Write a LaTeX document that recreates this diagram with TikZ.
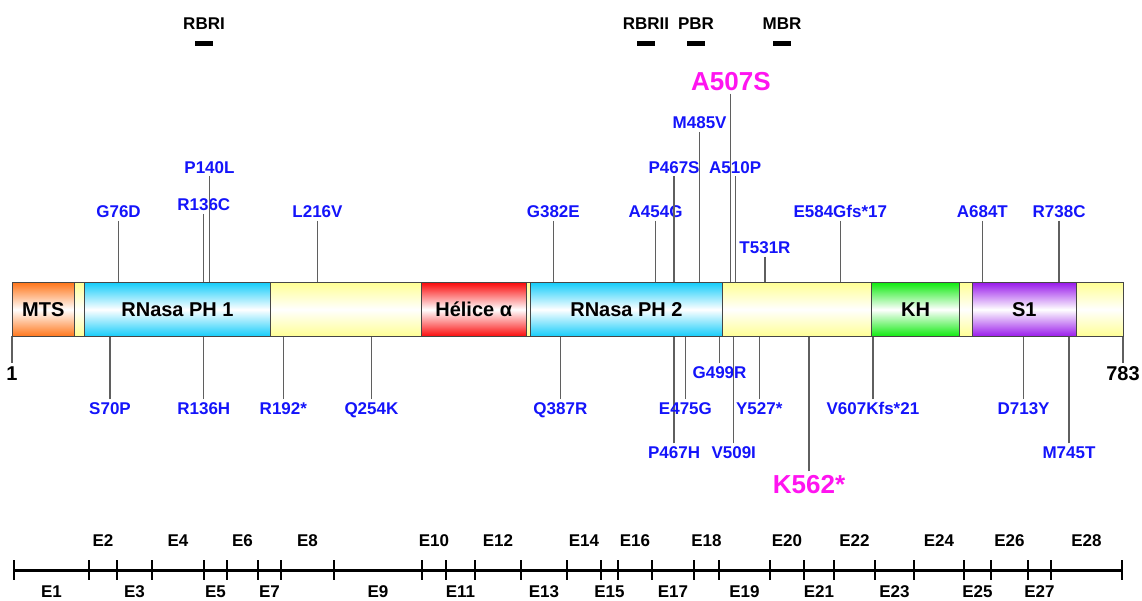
\documentclass[tikz,border=0pt]{standalone}
\usepackage{fontspec}
\setmainfont{Liberation Sans}
\usetikzlibrary{calc}
\definecolor{mutblue}{RGB}{20,20,250}
\definecolor{hotpink}{RGB}{255,20,240}
\definecolor{mtsorange}{RGB}{255,120,30}
\definecolor{rnacyan}{RGB}{25,205,250}
\definecolor{linkyellow}{RGB}{255,255,150}
\definecolor{helixred}{RGB}{250,15,15}
\definecolor{khgreen}{RGB}{20,235,20}
\definecolor{sonepurple}{RGB}{155,30,235}
\definecolor{pingray}{RGB}{95,95,95}
\definecolor{edgegray}{RGB}{70,70,70}

\begin{document}
\begin{tikzpicture}[x=1pt, y=-1pt, font=\bfseries,
  declare function={rx(\r)=12+(\r-1)*1.420716;},
  dom/.style={draw=edgegray, line width=1pt, top color=#1, bottom color=#1, middle color=white},
  dlabel/.style={inner sep=0pt, font=\fontsize{20}{24}\selectfont\bfseries},
  mut/.style={text=mutblue, inner sep=3pt, text height=12.2pt, text depth=0pt,
    font=\fontsize{17}{20}\selectfont\bfseries},
  hot/.style={mut, text=hotpink, text height=18.7pt, font=\fontsize{26}{30}\selectfont\bfseries},
  endlabel/.style={mut, text=black, text height=14.4pt, font=\fontsize{20}{24}\selectfont\bfseries},
  pin/.style={draw=pingray, line width=1.2pt},
  region/.style={inner sep=0pt, font=\fontsize{17}{20}\selectfont\bfseries},
  regbar/.style={fill=black, inner sep=0pt, minimum width=18pt, minimum height=5pt},
  exon/.style={inner sep=0pt, font=\fontsize{17}{20}\selectfont\bfseries},
  ruler/.style={line width=3pt},
  tick/.style={line width=2.5pt}]
  \useasboundingbox (0,0) rectangle (1142,601);

  \coordinate (top) at (0,283);
  \coordinate (bot) at (0,336);

  \foreach \nm/\x in {RBRI/204, RBRII/646, PBR/696, MBR/782}{
    \node[region] (\nm) at (\x,24) {\nm};
    \node[regbar] (\nm-bar) at (\x,44) {};
  }

  \foreach \r/\lbl/\y in {76/G76D/211.5, 136/R136C/204.5, 140/P140L/167, 216/L216V/211.5,
      382/G382E/211.5, 454/A454G/211.5, 467/P467S/167, 485/M485V/122.5, 510/A510P/167,
      531/T531R/247.3, 584/E584Gfs*17/211.5, 684/A684T/211.5, 738/R738C/211.5}{
    \node[mut] (u\r) at ({rx(\r)},\y) {\lbl};
    \draw[pin] (u\r.south) -- (u\r.south |- top);
  }
  \node[hot] (u507) at ({rx(507)},81) {A507S};
  \draw[pin] (u507.south) -- (u507.south |- top);

  \foreach \r/\lbl/\y in {70/S70P/408.5, 136/R136H/408.5, 192/R192*/408.5, 254/Q254K/408.5,
      387/Q387R/408.5, 467/P467H/452.7, 475/E475G/408.5, 499/G499R/372.7, 509/V509I/452.7,
      527/Y527*/408.5, 607/V607Kfs*21/408.5, 713/D713Y/408.5, 745/M745T/452.7}{
    \node[mut] (d\r) at ({rx(\r)},\y) {\lbl};
    \draw[pin] (d\r.north) -- (d\r.north |- bot);
  }
  \node[hot] (d562) at ({rx(562)},484) {K562*};
  \draw[pin] (d562.north) -- (d562.north |- bot);

  \node[endlabel] (first) at ({rx(1)},373) {1};
  \node[endlabel] (last) at ({rx(783)},373) {783};
  \draw[pin] (first.north) -- (first.north |- bot);
  \draw[pin] (last.north) -- (last.north |- bot);

  \draw[dom=linkyellow] ({rx(1)},283) rectangle ({rx(783)},336);
  \draw[dom=mtsorange] ({rx(1)},283) rectangle ({rx(45)},336);
  \draw[dom=rnacyan] ({rx(52)},283) rectangle ({rx(183)},336);
  \draw[dom=helixred] ({rx(289)},283) rectangle ({rx(363)},336);
  \draw[dom=rnacyan] ({rx(366)},283) rectangle ({rx(501)},336);
  \draw[dom=khgreen] ({rx(606)},283) rectangle ({rx(668)},336);
  \draw[dom=sonepurple] ({rx(677)},283) rectangle ({rx(750)},336);
  \node[dlabel] (mts) at ({(rx(1)+rx(45))/2},309.5) {MTS};
  \node[dlabel] (ph1) at ({(rx(52)+rx(183))/2},309.5) {RNasa PH 1};
  \node[dlabel] (helix) at ({(rx(289)+rx(363))/2},309.5) {Hélice α};
  \node[dlabel] (ph2) at ({(rx(366)+rx(501))/2},309.5) {RNasa PH 2};
  \node[dlabel] (kh) at ({(rx(606)+rx(668))/2},309.5) {KH};
  \node[dlabel] (s1) at ({(rx(677)+rx(750))/2},309.5) {S1};

  \foreach \x [count=\i from 0] in {14,89,117,152,204,227,258,281,334,422,446,475,521,567,
      601,618,652,694,719,770,804,834,875,914,964,991,1028,1051,1122}{
    \coordinate (t\i) at (\x,570);
    \draw[tick] (\x,560) -- (\x,580);
  }
  \draw[ruler] (t0) -- (t28);
  \foreach \i in {1,...,28}{
    \pgfmathtruncatemacro\j{\i-1}
    \ifodd\i
      \node[exon] (e\i) at ($(t\j)!0.5!(t\i)+(0,22)$) {E\i};
    \else
      \node[exon] (e\i) at ($(t\j)!0.5!(t\i)+(0,-29)$) {E\i};
    \fi
  }
\end{tikzpicture}
\end{document}
